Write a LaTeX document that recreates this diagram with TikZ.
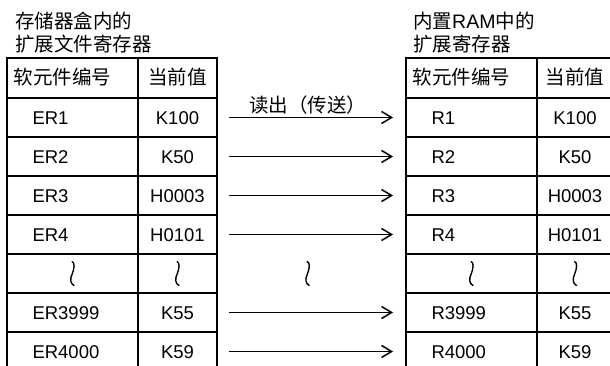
\documentclass[tikz,border=0pt]{standalone}
\usepackage{fontspec}
\setmainfont{Liberation Sans}
\newfontfamily\cjk{Noto Sans CJK SC}
\usetikzlibrary{arrows.meta,positioning,calc}
\newcommand{\latinsize}{\fontsize{18.5}{22}\selectfont}
\newcommand{\cjksize}{\cjk\fontsize{19.5}{23}\selectfont}

\begin{document}
\begin{tikzpicture}[x=1pt,y=-1pt,
    cell/.style={draw,line width=2pt,outer sep=0pt,inner ysep=0pt,
      minimum height=39pt,text height=13.5pt,text depth=0pt,font=\latinsize},
    keycell/.style={cell,inner xsep=25.5pt,text width=80pt,align=left},
    valcell/.style={cell,inner xsep=0pt,minimum width=#1},
    valcell/.default=79pt,
    keyhead/.style={keycell,inner xsep=6.5pt,text width=118pt,
      minimum height=40pt,font=\cjksize},
    valhead/.style={valcell=#1,minimum height=40pt,font=\cjksize},
    valhead/.default=79pt,
    heading/.style={align=left,inner sep=0pt,font=\cjksize},
    arrow/.style={-{Straight Barb[length=10pt,width=12pt]},line width=1.5pt,
      shorten <=12pt,shorten >=13pt},
    wave/.pic={\draw[line width=1.4pt,line cap=round]
      (-0.5,-12) .. controls (2.5,-11) and (2,-5) .. (-0.5,1)
      .. controls (-2.5,5) and (-2.5,10) .. (1.5,12);}
  ]
    \useasboundingbox (0,0) rectangle (610,366);
    % left table: file registers in the memory cassette
    \node[keyhead,anchor=north west] (lk0) at (7,58) {软元件编号};
    \node[valhead,right=0pt of lk0] (lv0) {当前值};
    \foreach \k/\v [count=\i,remember=\i as \j (initially 0)] in
      {ER1/K100,ER2/K50,ER3/H0003,ER4/H0101,{}/{},ER3999/K55,ER4000/K59}{
      \node[keycell,below=0pt of lk\j] (lk\i) {\k};
      \node[valcell,right=0pt of lk\i] (lv\i) {\v};
    }
    % right table: extension registers in the built-in RAM
    \node[keyhead,anchor=north west] (rk0) at (406,58) {软元件编号};
    \node[valhead=76pt,right=0pt of rk0] (rv0) {当前值};
    \foreach \k/\v [count=\i,remember=\i as \j (initially 0)] in
      {R1/K100,R2/K50,R3/H0003,R4/H0101,{}/{},R3999/K55,R4000/K59}{
      \node[keycell,below=0pt of rk\j] (rk\i) {\k};
      \node[valcell=76pt,right=0pt of rk\i] (rv\i) {\v};
    }
    \node[heading,above right=5pt and 8pt of lk0.north west] (ltitle)
      {存储器盒内的\\扩展文件寄存器};
    \node[heading,above right=5pt and 7pt of rk0.north west] (rtitle)
      {内置{\rmfamily RAM}中的\\扩展寄存器};
    % transfer arrows
    \draw[arrow] (lv1.east) -- node[heading,above=2pt,xshift=-4pt] (readlbl)
      {读出（传送）} (rk1.west);
    \foreach \i in {2,3,4,6,7}
      \draw[arrow] (lv\i.east) -- (rk\i.west);
    % omitted rows
    \coordinate (gap) at ($(lv5.east)!0.48!(rk5.west)$);
    \foreach \n in {lk5,lv5,gap,rk5,rv5}
      \pic at (\n) {wave};
  \end{tikzpicture}
\end{document}
